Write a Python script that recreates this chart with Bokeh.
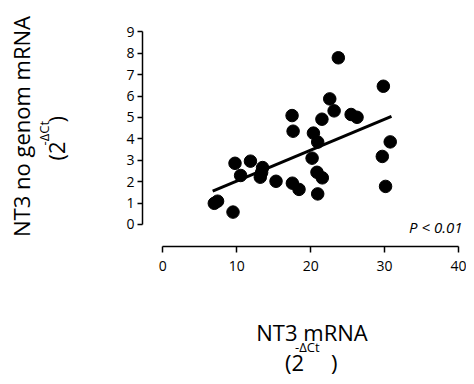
import math
from bokeh.plotting import figure
from bokeh.models import Range1d, FixedTicker, Label
from bokeh.embed import file_html
from bokeh.resources import INLINE

# Data
nt3_mrna = [6.96, 7.40, 9.49, 9.76, 10.52, 11.85, 13.49, 13.36, 13.18, 15.31,
            17.52, 18.42, 17.62, 17.48, 20.37, 20.95, 20.19, 20.85, 21.57, 20.95,
            21.52, 23.17, 22.58, 23.74, 25.47, 26.27, 29.83, 30.76, 29.69, 30.13]
nt3_no_genom = [0.99, 1.09, 0.58, 2.86, 2.29, 2.96, 2.66, 2.43, 2.21, 2.02,
                1.93, 1.64, 4.36, 5.09, 4.27, 3.85, 3.10, 2.44, 2.18, 1.43,
                4.92, 5.31, 5.87, 7.79, 5.14, 5.01, 6.46, 3.86, 3.18, 1.78]
fit_x = [6.74, 30.93]
fit_y = [1.56, 5.05]
x_ticks = [0, 10, 20, 30, 40]
y_ticks = [0, 1, 2, 3, 4, 5, 6, 7, 8, 9]
p_value_text = "P < 0.01"

FONT = "Open Sans"

# frame geometry (canvas pixels); the right edge loses room to the "40" label
FL, FT, FB = 142, 30, 246
X0, X1 = -2.756, 40.0 + 8.0 / 7.4
Y0, Y1 = -1.028, 9.065
W, H = 466, 376

p = figure(width=W, height=H, output_backend="svg", toolbar_location=None,
           title=None,
           x_range=Range1d(X0, X1), y_range=Range1d(Y0, Y1),
           min_border_left=FL, min_border_right=0, min_border_top=FT,
           min_border_bottom=H - FB)

p.outline_line_color = None
p.xgrid.visible = False
p.ygrid.visible = False
p.background_fill_color = "white"

for ax, ticks, bounds in ((p.xaxis, x_ticks, (0, 40)), (p.yaxis, y_ticks, (0, 9))):
    ax.ticker = FixedTicker(ticks=ticks)
    ax.bounds = bounds
    ax.axis_line_width = 1.5
    ax.axis_line_color = "black"
    ax.major_tick_line_width = 1.5
    ax.major_tick_line_color = "black"
    ax.major_tick_in = 0
    ax.minor_tick_in = 0
    ax.minor_tick_out = 0
    ax.major_label_text_font = FONT
    ax.major_label_text_color = "black"
    ax.major_label_text_font_size = "14px"

p.xaxis.major_tick_out = 6
p.xaxis.major_label_standoff = 8
p.yaxis.major_tick_out = 5
p.yaxis.major_label_standoff = 3

p.line(fit_x, fit_y, line_width=3, line_color="black")
p.scatter(nt3_mrna, nt3_no_genom, size=12.5, color="black")


def dx(px):
    # approximate pixel -> data mapping (x = 0 at 162.7 px, 7.4 px per unit)
    return (px - 162.7) / 7.4


def dy(py):
    return Y0 + (FB - py) * (Y1 - Y0) / (FB - FT)


def lab(text, px, py, size, align="left", angle=0.0, style="normal", side=None):
    l = Label(x=dx(px), y=dy(py), x_units="data", y_units="data", text=text,
              text_font=FONT, text_font_size=size, text_align=align,
              text_baseline="middle", angle=angle,
              text_font_style=style, text_color="black")
    if side is None:
        p.add_layout(l)
    else:
        p.add_layout(l, side)


V = math.pi / 2

# x axis title
lab("NT3 mRNA", 312, 331, "22px", align="center", side="below")
lab("(2", 304, 361.5, "22px", align="right", side="below")
lab("-\u0394Ct", 295, 346.5, "13px", align="left", side="below")
lab(")", 331, 361.5, "22px", align="left", side="left")

# y axis title (rotated, reading bottom to top)
lab("NT3 no genom mRNA", 21, 126, "22px", align="center", angle=V, side="left")
lab("(2", 56, 141, "22px", align="right", angle=V, side="left")
lab("-\u0394Ct", 43.5, 145, "13px", align="left", angle=V, side="left")
lab(")", 56, 122, "22px", align="left", angle=V, side="above")

# p value
lab(p_value_text, 462.7, 226.4, "15px", align="right", style="italic")

open("out.html", "w").write(file_html(p, INLINE))
